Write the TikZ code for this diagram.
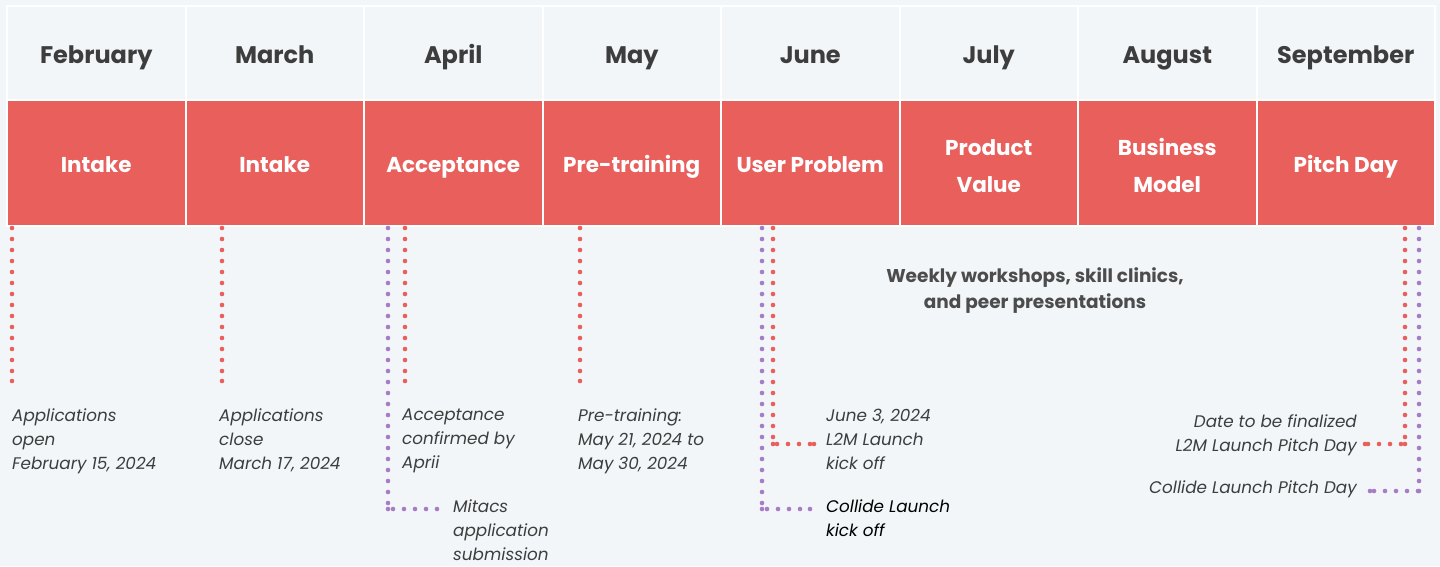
\documentclass[tikz,border=0pt]{standalone}
\usepackage{fontspec}
\setmainfont{Poppins}
\definecolor{bg}{HTML}{F2F6F9}
\definecolor{tred}{HTML}{E85F5C}
\definecolor{tpur}{HTML}{A67DC4}
\definecolor{tgrey}{HTML}{3D3D3D}
\newcommand\cellstrut{\rule[-11.6pt]{0pt}{33.6pt}}
\newcommand\onestrut{\rule[-7pt]{0pt}{33pt}}
\tikzset{
  hcell/.style={rectangle, draw=white, line width=2pt, fill=bg, minimum width=178.5pt, minimum height=94pt, inner sep=0pt, text=tgrey, text height=26pt, text depth=6pt, font=\bfseries\fontsize{24}{28}\selectfont},
  rcell/.style={rectangle, draw=white, line width=2pt, fill=tred, minimum width=178.5pt, minimum height=126pt, inner sep=0pt, text=white, align=center, font=\bfseries\fontsize{21.5}{37}\selectfont},
  reddot/.style={draw=tred, line width=4.6pt, line cap=round, dash pattern=on 0pt off 11pt},
  purdot/.style={draw=tpur, line width=4.6pt, line cap=round, dash pattern=on 0pt off 11pt},
  note/.style={inner sep=0pt, text=tgrey, align=left, font=\itshape\fontsize{16.8}{24}\selectfont},
}
\begin{document}
\begin{tikzpicture}[x=1pt,y=-1pt]
\fill[bg] (0,0) rectangle (1440,566);
\useasboundingbox (0,0) rectangle (1440,566);
\foreach \m/\l [count=\i from 0] in {February/{\onestrut Intake}, March/{\onestrut Intake}, April/{\onestrut Acceptance}, May/{\onestrut Pre-training}, June/{\onestrut User Problem}, July/{\cellstrut Product\\Value}, August/{\cellstrut Business\\Model}, September/{\onestrut Pitch Day}}{
  \node[hcell] (h\i) at ({7+178.5*(\i+0.5)},53) {\m};
  \node[rcell] (r\i) at ({7+178.5*(\i+0.5)},163) {\l};
}
% coordinates for connectors
\coordinate (a0) at (12,228);   \coordinate (a0e) at (12,381);
\coordinate (a1) at (222,228);  \coordinate (a1e) at (222,381);
\coordinate (a2p) at (388,228); \coordinate (a2pc) at (388,509); \coordinate (a2pe) at (437,509);
\coordinate (a2) at (405,228);  \coordinate (a2e) at (405,381);
\coordinate (a3) at (580,228);  \coordinate (a3e) at (580,381);
\coordinate (a4p) at (762,228); \coordinate (a4pc) at (762,509); \coordinate (a4pe) at (810,509);
\coordinate (a4) at (773,228);  \coordinate (a4c) at (773,444);  \coordinate (a4e) at (814,444);
\coordinate (a7) at (1405,228); \coordinate (a7c) at (1405,444); \coordinate (a7e) at (1365,444);
\coordinate (a7p) at (1419,228);\coordinate (a7pc) at (1419,491); \coordinate (a7pe) at (1370,491);

\draw[reddot] (a0) -- (a0e);
\draw[reddot] (a1) -- (a1e);
\draw[purdot] (a2p) -- (a2pc) -- (a2pe);
\draw[reddot] (a2) -- (a2e);
\draw[reddot] (a3) -- (a3e);
\draw[purdot] (a4p) -- (a4pc) -- (a4pe);
\draw[reddot] (a4) -- (a4c) -- (a4e);
\draw[reddot] (a7) -- (a7c) -- (a7e);
\draw[purdot] (a7p) -- (a7pc) -- (a7pe);
\foreach \c in {a0e,a1e,a2e,a3e,a4c,a4e,a7c,a7e}{\fill[tred] (\c) circle (2.3pt);}
\foreach \c in {a2pc,a2pe,a4pc,a4pe,a7pc,a7pe}{\fill[tpur] (\c) circle (2.3pt);}

\node[note, anchor=north west] (n0) at (12,409) {Applications\\open\\February 15, 2024};
\node[note, anchor=north west] (n1) at (219,409) {Applications\\close\\March 17, 2024};
\node[note, anchor=north west] (n2) at (402,409) {Acceptance\\confirmed by\\Aprii};
\node[note, anchor=north west] (n2p) at (453,500) {Mitacs\\application\\submission};
\node[note, anchor=north west] (n3) at (578,409) {Pre-training:\\May 21, 2024 to\\May 30, 2024};
\node[note, anchor=north west] (n4) at (826,409) {June 3, 2024\\L2M Launch\\kick off};
\node[note, anchor=north west, text=black] (n4p) at (826,500) {Collide Launch\\kick off};
\node[note, anchor=north east, align=right] (n7) at (1357,414) {Date to be finalized\\L2M Launch Pitch Day};
\node[note, anchor=north east] (n7p) at (1357,481) {Collide Launch Pitch Day};
\node[inner sep=0pt, text=tgrey!92!white, align=center, font=\bfseries\fontsize{18.5}{26}\selectfont] (wk) at (1035,291) {Weekly workshops, skill clinics,\\and peer presentations};
\end{tikzpicture}
\end{document}
